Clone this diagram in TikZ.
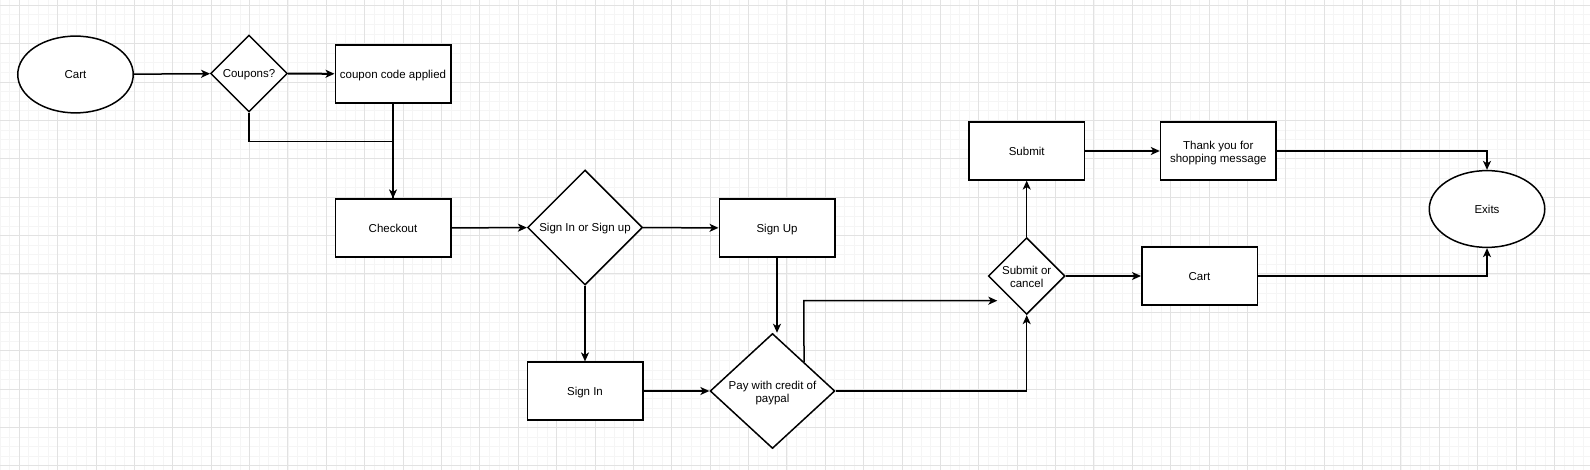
\documentclass[tikz,border=0pt]{standalone}
\usepackage{fontspec}
\setmainfont{Liberation Sans}
\usetikzlibrary{shapes.geometric,arrows.meta}
\definecolor{gmajor}{HTML}{E2E2E2}
\definecolor{gminor}{HTML}{F5F5F5}
\newcommand{\fs}{\fontsize{11.5}{12.8}\selectfont}
\begin{document}
\begin{tikzpicture}[x=1pt,y=-1pt,
  box/.style={draw, line width=1.5pt, rectangle, minimum width=115.5pt, minimum height=57.7pt, inner sep=0pt, fill=white, font=\fs, text height=8.6pt, text depth=0pt},
  oval/.style={draw, line width=1.5pt, ellipse, minimum width=115.5pt, minimum height=76.8pt, inner sep=0pt, fill=white, font=\fs, text height=8.6pt, text depth=0pt},
  dia/.style={draw, line width=1.5pt, diamond, inner sep=0pt, fill=white},
  dtext/.style={font=\fs, inner sep=0pt, text height=8.6pt, text depth=0pt},
  mtext/.style={font=\fs, align=center, inner sep=0pt},
  conn/.style={line width=1.5pt, -{Stealth[length=9pt,width=8pt,inset=2.5pt]}},
  plain/.style={line width=1.5pt}]
\fill[white] (0,0) rectangle (1590,470);
\useasboundingbox (0,0) rectangle (1590,470);
% grid
\foreach \i in {-2,...,165} {\draw[gminor, line width=0.8pt] ({19.3+9.595*\i},0) -- ({19.3+9.595*\i},470);}
\foreach \i in {-1,...,48} {\draw[gminor, line width=0.8pt] (0,{5.3+9.595*\i}) -- (1590,{5.3+9.595*\i});}
\foreach \i in {0,...,41} {\draw[gmajor, line width=1pt] ({19.3+38.38*\i},0) -- ({19.3+38.38*\i},470);}
\foreach \i in {0,...,12} {\draw[gmajor, line width=1pt] (0,{5.3+38.38*\i}) -- (1590,{5.3+38.38*\i});}
% nodes
\node[oval] (cart1) at (75.5,74.5) {Cart};
\node[dia, minimum width=76.8pt, minimum height=76.8pt] (coupons) at (249,73.5) {};
\node[dtext] (couponst) at (coupons.center) {Coupons?};
\node[box] (applied) at (393,74) {coupon code applied};
\node[box] (checkout) at (393,228) {Checkout};
\node[dia, minimum width=115pt, minimum height=115pt] (signq) at (585,227.5) {};
\node[dtext] (signqt) at (signq.center) {Sign In or Sign up};
\node[box] (signup) at (777,228) {Sign Up};
\node[box] (signin) at (585,391) {Sign In};
\node[dia, minimum width=124.8pt, minimum height=115pt] (pay) at (772.5,391) {};
\node[mtext, yshift=-2pt] (payt) at (pay.center) {Pay with credit of\\paypal};
\node[dia, minimum width=76.8pt, minimum height=76.8pt] (subq) at (1026.7,276) {};
\node[mtext, yshift=-1pt] (subqt) at (subq.center) {Submit or\\cancel};
\node[box] (submit) at (1026.7,151) {Submit};
\node[box] (thanks) at (1218.3,151) {};
\node[mtext, yshift=-2pt] (thankst) at (thanks.center) {Thank you for\\shopping message};
\node[box] (cart2) at (1199.5,276) {Cart};
\node[oval] (exits) at (1487,209) {Exits};
\coordinate (j1) at (249,141.7);
\coordinate (free1) at (997.3,300.7);
\coordinate (up1) at (803.75,300.7);
% connectors
\draw[conn] (cart1) -- (coupons);
\draw[conn, line width=2pt] (coupons) -- (applied);
\draw[plain] (coupons.south) -- (j1) -| (checkout.north);
\draw[conn] (applied) -- (checkout);
\draw[conn] (checkout) -- (signq);
\draw[conn] (signq) -- (signup);
\draw[conn] (signq) -- (signin);
\draw[conn] (signin) -- (pay);
\draw[conn] (signup.south) -- (signup.south |- pay.north);
\draw[conn] (pay.north east) -- (up1) -- (free1);
\draw[conn] (pay.east) -| (subq.south);
\draw[conn] (subq) -- (submit);
\draw[conn] (subq) -- (cart2);
\draw[conn] (submit) -- (thanks);
\draw[conn] (thanks.east) -| (exits.north);
\draw[conn] (cart2.east) -| (exits.south);
\end{tikzpicture}
\end{document}
